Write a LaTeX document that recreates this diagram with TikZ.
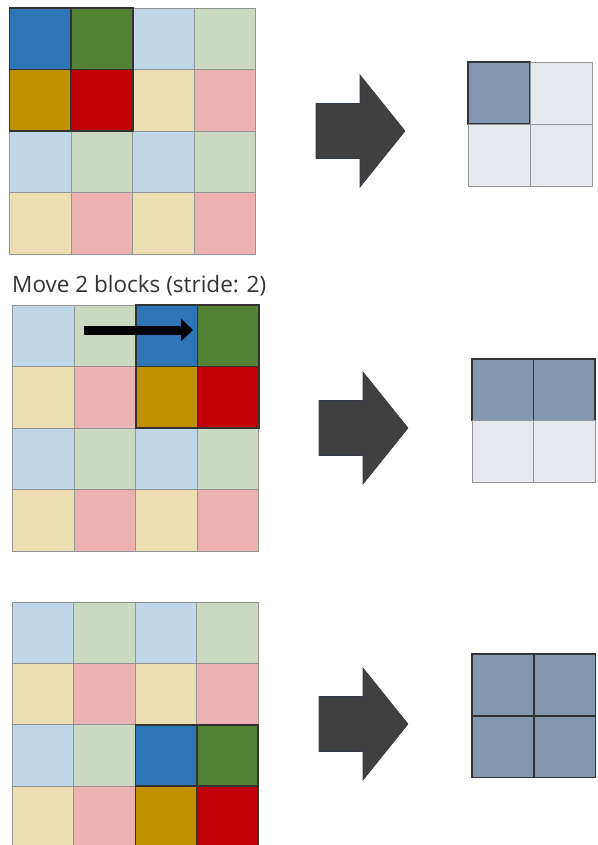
\documentclass[tikz,border=0pt]{standalone}
\usepackage{fontspec}
\setmainfont{Open Sans}
\usetikzlibrary{arrows.meta,calc,positioning}

\definecolor{blk00}{HTML}{2E75B6}
\definecolor{blk10}{HTML}{548235}
\definecolor{blk01}{HTML}{BF9000}
\definecolor{blk11}{HTML}{C00000}
\definecolor{pooled}{HTML}{8497B0}
\definecolor{arrowgray}{HTML}{404040}
\definecolor{arrowedge}{HTML}{2F3A4A}
\definecolor{captiongray}{HTML}{333333}

\tikzset{
  cell/.style={draw=black!42,line width=0.9pt},
  window/.style={draw=black!80,line width=1.6pt},
  bigarrow/.style={fill=arrowgray,draw=arrowedge,line width=0.6pt},
  move/.style={line width=9pt,-{Triangle[length=12pt,width=22pt]}},
}

% 4x4 input at (#1,#2), cell size #3, pooling window starts at column #4 / row #5
\newcommand{\inputgrid}[5]{
  \foreach \i in {0,...,3}
    \foreach \j in {0,...,3}{
      \pgfmathtruncatemacro\colx{mod(\i,2)}
      \pgfmathtruncatemacro\coly{mod(\j,2)}
      \draw[cell,fill=blk\colx\coly!30] (#1+\i*#3,#2+\j*#3) rectangle ++(#3,#3);
    }
  \foreach \i in {0,1}
    \foreach \j in {0,1}
      \draw[window,fill=blk\i\j] (#1+#4*#3+\i*#3,#2+#5*#3+\j*#3) rectangle ++(#3,#3);
}

% 2x2 output at (#1,#2), cell size #3, first #4 cells filled
\newcommand{\outputgrid}[4]{
  \foreach \k in {0,...,3}{
    \pgfmathtruncatemacro\i{mod(\k,2)}
    \pgfmathtruncatemacro\j{div(\k,2)}
    \ifnum\k<#4
      \draw[window,fill=pooled] (#1+\i*#3,#2+\j*#3) rectangle ++(#3,#3);
    \else
      \draw[cell,fill=pooled!20] (#1+\i*#3,#2+\j*#3) rectangle ++(#3,#3);
    \fi
  }
}

% block arrow, shaft left end at (#1,#2)
\newcommand{\blockarrow}[2]{
  \draw[bigarrow] (#1,#2-27.5) -- ++(44,0) -- ++(0,-28.5) -- (#1+89,#2)
    -- (#1+44,#2+56) -- ++(0,-28.5) -- (#1,#2+27.5) -- cycle;
}

\begin{document}
\begin{tikzpicture}[x=1pt,y=-1pt]
\useasboundingbox (0,0) rectangle (597,845);

% step 1
\inputgrid{9.5}{8}{61.6}{0}{0}
\blockarrow{316}{131}
\outputgrid{468}{62}{62}{1}

% step 2
\node[anchor=base west,inner sep=0pt,text=captiongray,font=\fontsize{22.5}{26}\selectfont] (stride) at (12,292.5) {Move 2 blocks (stride: 2)};
\inputgrid{12.5}{305}{61.6}{2}{0}
\coordinate (from) at (84,330);
\coordinate (to) at (193,330);
\draw[move] (from) -- (to);
\blockarrow{319}{428}
\outputgrid{472}{359}{61.5}{2}

% step 3
\inputgrid{12.5}{602}{61.4}{2}{2}
\blockarrow{319}{724}
\outputgrid{472}{654}{61.8}{4}
\end{tikzpicture}
\end{document}
